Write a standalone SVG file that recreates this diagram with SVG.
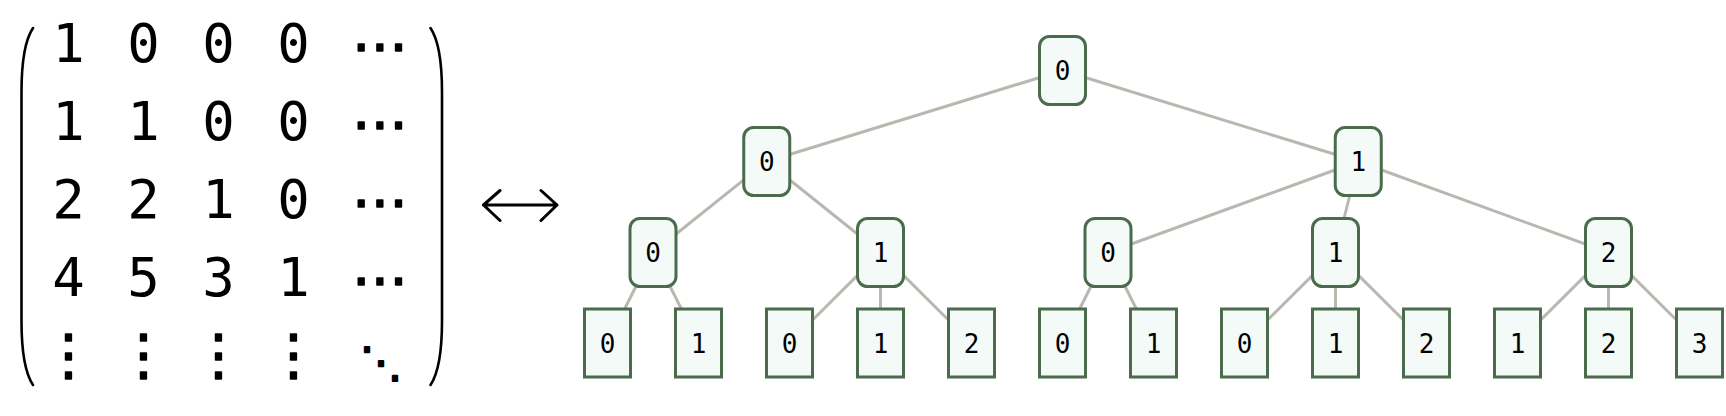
<svg xmlns="http://www.w3.org/2000/svg" width="1726" height="416" viewBox="0 0 1726 416">
  <style>
    .m { font-family: "DejaVu Sans Mono", "DejaVu Sans", monospace; font-size: 54px; fill: #000; text-anchor: middle; }
    .d { font-family: "DejaVu Sans", sans-serif; font-size: 56px; fill: #000; stroke: #000; stroke-width: 1.6; stroke-linejoin: round; text-anchor: middle; }
    .dd { font-family: "DejaVu Sans", sans-serif; font-size: 42px; fill: #000; stroke: #000; stroke-width: 2; stroke-linejoin: round; text-anchor: middle; }
    .paren { fill: none; stroke: #000; stroke-width: 2.6; stroke-linecap: round; }
    .arrow { fill: none; stroke: #000; stroke-width: 3; stroke-linecap: round; stroke-linejoin: round; }
    .edge { stroke: #b8b8b0; stroke-width: 3; fill: none; }
    .node { fill: #f4faf8; stroke: #4b6b4d; stroke-width: 3; }
    .lbl { font-family: "DejaVu Sans Mono", monospace; font-size: 26px; fill: #000; text-anchor: middle; }
  </style>

  <g id="matrix">
    <path class="paren" d="M33,28 C25,40 21.5,60 21.5,92 L21.5,321 C21.5,353 25,373 33,385"/>
    <path class="paren" d="M430.5,28 C438.5,40 442,60 442,92 L442,321 C442,353 438.5,373 430.5,385"/>
    <text class="m" x="68.5" y="62">1</text>
    <text class="m" x="143.5" y="62">0</text>
    <text class="m" x="218.5" y="62">0</text>
    <text class="m" x="293.5" y="62">0</text>
    <text class="d" x="380" y="65">⋯</text>
    <text class="m" x="68.5" y="139.5">1</text>
    <text class="m" x="143.5" y="139.5">1</text>
    <text class="m" x="218.5" y="139.5">0</text>
    <text class="m" x="293.5" y="139.5">0</text>
    <text class="d" x="380" y="142.5">⋯</text>
    <text class="m" x="68.5" y="217.5">2</text>
    <text class="m" x="143.5" y="217.5">2</text>
    <text class="m" x="218.5" y="217.5">1</text>
    <text class="m" x="293.5" y="217.5">0</text>
    <text class="d" x="380" y="220.5">⋯</text>
    <text class="m" x="68.5" y="295.5">4</text>
    <text class="m" x="143.5" y="295.5">5</text>
    <text class="m" x="218.5" y="295.5">3</text>
    <text class="m" x="293.5" y="295.5">1</text>
    <text class="d" x="380" y="298.5">⋯</text>
    <text class="d" x="68.5" y="374">⋮</text>
    <text class="d" x="143.5" y="374">⋮</text>
    <text class="d" x="218.5" y="374">⋮</text>
    <text class="d" x="293.5" y="374">⋮</text>
    <text class="dd" x="381" y="377">⋱</text>
  </g>

  <g id="bijection">
    <path class="arrow" d="M483.5,205 L557,205 M500,190.5 L483.5,205 L500,220.5 M541,190.5 L557,205 L541,220.5"/>
  </g>

  <g id="connectors">
    <line class="edge" x1="1062.5" y1="70.5" x2="766.75" y2="161.5"/>
    <line class="edge" x1="1062.5" y1="70.5" x2="1358.25" y2="161.5"/>
    <line class="edge" x1="766.75" y1="161.5" x2="653" y2="252.5"/>
    <line class="edge" x1="766.75" y1="161.5" x2="880.5" y2="252.5"/>
    <line class="edge" x1="1358.25" y1="161.5" x2="1108" y2="252.5"/>
    <line class="edge" x1="1358.25" y1="161.5" x2="1335.5" y2="252.5"/>
    <line class="edge" x1="1358.25" y1="161.5" x2="1608.5" y2="252.5"/>
    <line class="edge" x1="653" y1="252.5" x2="607.5" y2="343"/>
    <line class="edge" x1="653" y1="252.5" x2="698.5" y2="343"/>
    <line class="edge" x1="880.5" y1="252.5" x2="789.5" y2="343"/>
    <line class="edge" x1="880.5" y1="252.5" x2="880.5" y2="343"/>
    <line class="edge" x1="880.5" y1="252.5" x2="971.5" y2="343"/>
    <line class="edge" x1="1108" y1="252.5" x2="1062.5" y2="343"/>
    <line class="edge" x1="1108" y1="252.5" x2="1153.5" y2="343"/>
    <line class="edge" x1="1335.5" y1="252.5" x2="1244.5" y2="343"/>
    <line class="edge" x1="1335.5" y1="252.5" x2="1335.5" y2="343"/>
    <line class="edge" x1="1335.5" y1="252.5" x2="1426.5" y2="343"/>
    <line class="edge" x1="1608.5" y1="252.5" x2="1517.5" y2="343"/>
    <line class="edge" x1="1608.5" y1="252.5" x2="1608.5" y2="343"/>
    <line class="edge" x1="1608.5" y1="252.5" x2="1699.5" y2="343"/>
  </g>

  <g id="n-root"><rect class="node" x="1039.5" y="36.5" width="46" height="68" rx="10"/><text class="lbl" x="1062.5" y="80">0</text></g>

  <g id="n-l1-0"><rect class="node" x="743.75" y="127.5" width="46" height="68" rx="10"/><text class="lbl" x="766.75" y="171">0</text></g>
  <g id="n-l1-1"><rect class="node" x="1335.25" y="127.5" width="46" height="68" rx="10"/><text class="lbl" x="1358.25" y="171">1</text></g>

  <g id="n-l2-0"><rect class="node" x="630" y="218.5" width="46" height="68" rx="10"/><text class="lbl" x="653" y="262">0</text></g>
  <g id="n-l2-1"><rect class="node" x="857.5" y="218.5" width="46" height="68" rx="10"/><text class="lbl" x="880.5" y="262">1</text></g>
  <g id="n-l2-2"><rect class="node" x="1085" y="218.5" width="46" height="68" rx="10"/><text class="lbl" x="1108" y="262">0</text></g>
  <g id="n-l2-3"><rect class="node" x="1312.5" y="218.5" width="46" height="68" rx="10"/><text class="lbl" x="1335.5" y="262">1</text></g>
  <g id="n-l2-4"><rect class="node" x="1585.5" y="218.5" width="46" height="68" rx="10"/><text class="lbl" x="1608.5" y="262">2</text></g>

  <g id="leaf-0"><rect class="node" x="584.5" y="309" width="46" height="68"/><text class="lbl" x="607.5" y="352.5">0</text></g>
  <g id="leaf-1"><rect class="node" x="675.5" y="309" width="46" height="68"/><text class="lbl" x="698.5" y="352.5">1</text></g>
  <g id="leaf-2"><rect class="node" x="766.5" y="309" width="46" height="68"/><text class="lbl" x="789.5" y="352.5">0</text></g>
  <g id="leaf-3"><rect class="node" x="857.5" y="309" width="46" height="68"/><text class="lbl" x="880.5" y="352.5">1</text></g>
  <g id="leaf-4"><rect class="node" x="948.5" y="309" width="46" height="68"/><text class="lbl" x="971.5" y="352.5">2</text></g>
  <g id="leaf-5"><rect class="node" x="1039.5" y="309" width="46" height="68"/><text class="lbl" x="1062.5" y="352.5">0</text></g>
  <g id="leaf-6"><rect class="node" x="1130.5" y="309" width="46" height="68"/><text class="lbl" x="1153.5" y="352.5">1</text></g>
  <g id="leaf-7"><rect class="node" x="1221.5" y="309" width="46" height="68"/><text class="lbl" x="1244.5" y="352.5">0</text></g>
  <g id="leaf-8"><rect class="node" x="1312.5" y="309" width="46" height="68"/><text class="lbl" x="1335.5" y="352.5">1</text></g>
  <g id="leaf-9"><rect class="node" x="1403.5" y="309" width="46" height="68"/><text class="lbl" x="1426.5" y="352.5">2</text></g>
  <g id="leaf-10"><rect class="node" x="1494.5" y="309" width="46" height="68"/><text class="lbl" x="1517.5" y="352.5">1</text></g>
  <g id="leaf-11"><rect class="node" x="1585.5" y="309" width="46" height="68"/><text class="lbl" x="1608.5" y="352.5">2</text></g>
  <g id="leaf-12"><rect class="node" x="1676.5" y="309" width="46" height="68"/><text class="lbl" x="1699.5" y="352.5">3</text></g>
</svg>
